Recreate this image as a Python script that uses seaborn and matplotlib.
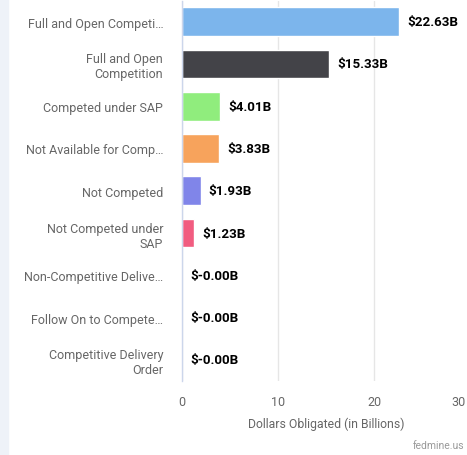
import matplotlib
matplotlib.use("Agg")
import matplotlib.pyplot as plt
import seaborn as sns
import pandas as pd
from matplotlib.patches import Rectangle
from matplotlib.transforms import ScaledTranslation

# --- Data ---
categories = [
    "Full and Open Competi\u2026",
    "Full and Open\nCompetition",
    "Competed under SAP",
    "Not Available for Comp\u2026",
    "Not Competed",
    "Not Competed under\nSAP",
    "Non-Competitive Delive\u2026",
    "Follow On to Compete\u2026",
    "Competitive Delivery\nOrder",
]
values = [22.63, 15.33, 4.01, 3.83, 1.93, 1.23, -0.001, -0.001, -0.001]
colors = ["#7cb5ec", "#434348", "#90ed7d", "#f7a35c", "#8085e9",
          "#f15c80", "#e4d354", "#2b908f", "#f45b5b"]
x_ticks = [0, 10, 20, 30]

df = pd.DataFrame({"category": categories, "value": values})

sns.set_theme(style="white")
plt.rcParams["font.family"] = ["Roboto", "DejaVu Sans"]

fig = plt.figure(figsize=(4.67, 4.56), dpi=100)
fig.patches.append(Rectangle((0, 0), 8 / 467, 1, transform=fig.transFigure,
                             color="#eef2f8", zorder=0))
ax = fig.add_axes([182 / 467, 74 / 456, 288 / 467, 380.5 / 456])

sns.barplot(data=df, y="category", x="value", hue="category", palette=colors,
            orient="h", width=0.68, edgecolor="white", linewidth=1,
            saturation=1, legend=False, ax=ax)

for i, v in enumerate(values):
    ax.annotate(f"${v:.2f}B", xy=(max(v, 0), i), xytext=(6, 0),
                textcoords="offset points", va="center", ha="left",
                fontsize=9.6, fontweight="bold", color="black")

ax.set_xlim(0, 30)
ax.set_ylim(8.5, -0.5)
ax.set_xticks(x_ticks)
ax.xaxis.grid(True, color="#e6e6e6", linewidth=1)
ax.set_axisbelow(True)
for s in ["top", "right", "bottom"]:
    ax.spines[s].set_visible(False)
ax.spines["left"].set_color("#ccd6eb")
ax.spines["left"].set_linewidth(1)

ax.tick_params(axis="x", length=0, pad=10, labelsize=9, labelcolor="#666666")
ax.tick_params(axis="y", which="major", length=0, pad=13.5, labelsize=9,
               labelcolor="#666666")
ax.set_yticks([i - 0.5 for i in range(len(categories) + 1)], minor=True)
ax.tick_params(axis="y", which="minor", length=6, width=1, color="#ccd6eb")

# last x label is pushed inward, like the original chart does
last = ax.get_xticklabels()[-1]
last.set_transform(last.get_transform() +
                   ScaledTranslation(-11 / 100, 0, fig.dpi_scale_trans))

ax.set_ylabel("")
ax.set_xlabel("Dollars Obligated (in Billions)", fontsize=8.8, color="#666666",
              labelpad=6)

fig.text(413 / 467, 10 / 456, "fedmine.us", fontsize=7.5, color="#999999",
         ha="left", va="center")

fig.savefig("out.png", dpi=100)
